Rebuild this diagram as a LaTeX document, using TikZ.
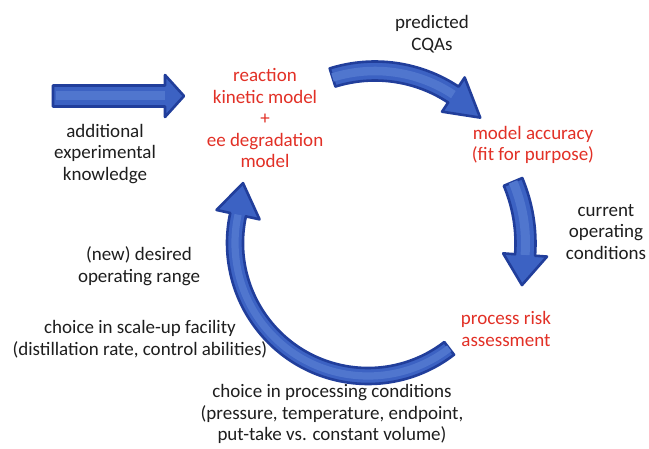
\documentclass[tikz,border=0pt]{standalone}
\usepackage{fontspec}
\setmainfont{Carlito}
\definecolor{arrowEdge}{RGB}{33,62,155}
\definecolor{arrowFill}{RGB}{60,98,195}
\definecolor{arrowLight}{RGB}{80,118,206}
\definecolor{redtext}{RGB}{226,48,38}
\definecolor{darktext}{RGB}{30,30,30}
\newcommand{\cycarrow}[9]{%
  \pgfmathsetmacro{\rout}{#3+#8}%
  \pgfmathsetmacro{\rin}{#3-#8}%
  \pgfmathsetmacro{\hout}{#3+#9}%
  \pgfmathsetmacro{\hin}{#3-#9}%
  \pgfmathsetmacro{\lw}{#8*0.9}%
  \filldraw[arrowshape] ([shift={(#4:\rout)}]#1,#2) arc[start angle=#4,end angle=#5,radius=\rout]
    -- ([shift={(#5:\hout)}]#1,#2) -- ([shift={(#6:#7)}]#1,#2) -- ([shift={(#5:\hin)}]#1,#2)
    -- ([shift={(#5:\rin)}]#1,#2) arc[start angle=#5,end angle=#4,radius=\rin] -- cycle;
  \draw[arrowLight, line width=\lw bp] ([shift={(#4:#3)}]#1,#2) arc[start angle=#4,end angle=#5,radius=#3];
}
\begin{document}
\begin{tikzpicture}[x=1bp,y=-1bp,
  arrowshape/.style={draw=arrowEdge, fill=arrowFill, line width=2.6bp, line join=round},
  lbl/.style={align=center, inner sep=0pt, font=\fontsize{19bp}{21.5bp}\selectfont},
  redlbl/.style={lbl, text=redtext},
  blklbl/.style={lbl, text=darktext}]
\useasboundingbox[fill=white] (0,0) rectangle (649,449);

% straight arrow
\filldraw[arrowshape] (53,85.5) -- (165,85.5) -- (165,75) -- (184,96) -- (165,117) -- (165,106.5) -- (53,106.5) -- cycle;
\draw[arrowLight, line width=9bp] (56,96) -- (165,96);

% curved arrows
\cycarrow{375}{213}{142}{-107.4}{-56.5}{-42.2}{142}{9.5}{20.5}
\cycarrow{367.5}{243.4}{158}{-22.9}{4.2}{15.1}{160}{10}{22}
\cycarrow{368}{243}{133}{52.4}{192.3}{205.6}{138.6}{8}{22}

% texts
\node[redlbl] (model) at (265,118) {reaction\\kinetic model\\+\\ee degradation\\model};
\node[blklbl] (cqa) at (432,34) {predicted\\CQAs};
\node[redlbl] (acc) at (533,145) {model accuracy\\(fit for purpose)};
\node[blklbl] (coc) at (606,232) {current\\operating\\conditions};
\node[redlbl] (risk) at (506,329) {process risk\\assessment};
\node[blklbl] (add) at (105,154) {additional\\experimental\\knowledge};
\node[blklbl] (range) at (139,266) {(new) desired\\operating range};
\node[blklbl] (scale) at (140,339) {choice in scale-up facility\\(distillation rate, control abilities)};
\node[blklbl] (proc) at (332,414) {choice in processing conditions\\(pressure, temperature, endpoint,\\put-take vs. constant volume)};
\end{tikzpicture}
\end{document}
